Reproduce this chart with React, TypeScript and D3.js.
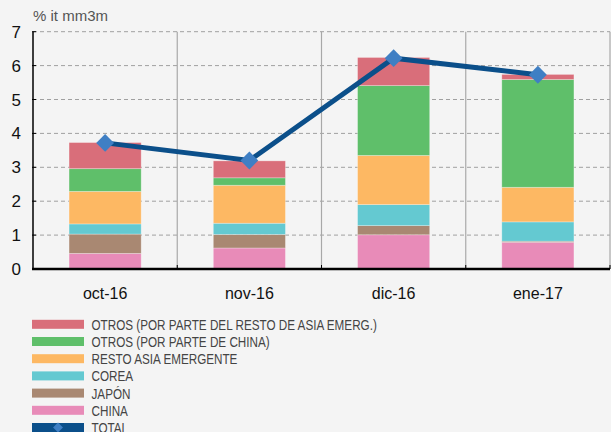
import React from "react";
import * as d3 from "d3";

const categories = ["oct-16", "nov-16", "dic-16", "ene-17"];
const seriesNames = [
  "CHINA",
  "JAPÓN",
  "COREA",
  "RESTO ASIA EMERGENTE",
  "OTROS (POR PARTE DE CHINA)",
  "OTROS (POR PARTE DEL RESTO DE ASIA EMERG.)",
];
const china = [0.46, 0.62, 1.01, 0.79];
const japon = [0.57, 0.4, 0.27, 0.03];
const corea = [0.3, 0.33, 0.62, 0.57];
const resto = [0.96, 1.12, 1.45, 1.02];
const otrosChina = [0.67, 0.22, 2.06, 3.18];
const otrosResto = [0.77, 0.5, 0.83, 0.15];
const total = [3.72, 3.2, 6.22, 5.73];
const yTicks = [0, 1, 2, 3, 4, 5, 6, 7];
const colors = ["#E88BB8", "#A98872", "#64C9D1", "#FDB863", "#5FBF6A", "#D96E7A"];
const legendOrder = [5, 4, 3, 2, 1, 0];

const W = 611;
const H = 432;
const left = 33;
const right = 610;
const top = 31.7;
const bottom = 269;

export default function App() {
  const series = [china, japon, corea, resto, otrosChina, otrosResto];
  const x = d3.scaleBand<string>().domain(categories).range([left, right]).padding(0);
  const y = d3.scaleLinear().domain([0, 7]).range([bottom, top]);
  const bw = x.bandwidth() * 0.5;
  const rows = categories.map((c, i) => {
    const o: any = { cat: c };
    series.forEach((s, j) => (o["s" + j] = s[i]));
    return o;
  });
  const stack = d3.stack<any>().keys(series.map((_, j) => "s" + j))(rows);
  const line = d3
    .line<number>()
    .x((_, i) => (x(categories[i]) as number) + x.bandwidth() / 2)
    .y((d) => y(d));
  const font = "Liberation Sans, Arial, Helvetica, sans-serif";
  const sx = 0.78;
  return (
    <svg
      width={W}
      height={H}
      style={{ position: "absolute", left: 0, top: 0, background: "#F4F4F4" }}
    >
      <rect x={0} y={0} width={W} height={H} fill="#F4F4F4" />
      {yTicks.slice(1).map((t) => (
        <line
          key={"g" + t}
          x1={left}
          x2={right}
          y1={y(t)}
          y2={y(t)}
          stroke="#A0A0A0"
          strokeWidth={1}
          strokeDasharray="4,3"
        />
      ))}
      {categories.map((c) => (
        <line
          key={"v" + c}
          x1={(x(c) as number) + x.bandwidth()}
          x2={(x(c) as number) + x.bandwidth()}
          y1={top}
          y2={bottom}
          stroke="#A8A8A8"
          strokeWidth={1.2}
        />
      ))}
      {stack.map((layer, j) => (
        <g key={"l" + j}>
          {layer.map((d, i) => (
            <rect
              key={i}
              x={(x(categories[i]) as number) + x.bandwidth() / 2 - bw / 2}
              y={y(d[1])}
              width={bw}
              height={Math.max(0, y(d[0]) - y(d[1]))}
              fill={colors[j]}
              stroke="#FFFFFF"
              strokeOpacity={0.35}
              strokeWidth={0.8}
            />
          ))}
        </g>
      ))}
      <line x1={left} x2={left} y1={top} y2={bottom} stroke="#000" strokeWidth={1.5} />
      {yTicks.map((t) => (
        <g key={"t" + t}>
          <line x1={left - 1} x2={left + 3} y1={y(t)} y2={y(t)} stroke="#000" strokeWidth={1} />
          <text
            x={21}
            y={y(t) + 6}
            textAnchor="end"
            fontFamily={font}
            fontSize={17}
            fill="#111"
          >
            {t}
          </text>
        </g>
      ))}
      {categories.map((c) => (
        <line
          key={"xt" + c}
          x1={(x(c) as number) + x.bandwidth()}
          x2={(x(c) as number) + x.bandwidth()}
          y1={bottom - 4}
          y2={bottom}
          stroke="#000"
          strokeWidth={1}
        />
      ))}
      <line x1={left - 1} x2={right} y1={bottom} y2={bottom} stroke="#000" strokeWidth={2.5} />
      {categories.map((c) => (
        <text
          key={"xl" + c}
          x={(x(c) as number) + x.bandwidth() / 2}
          y={299}
          textAnchor="middle"
          fontFamily={font}
          fontSize={16}
          fill="#111"
        >
          {c}
        </text>
      ))}
      <text x={33} y={21} fontFamily={font} fontSize={15} fill="#555">
        % it mm3m
      </text>
      <path d={line(total) || ""} fill="none" stroke="#0B4F8A" strokeWidth={5} />
      {total.map((v, i) => {
        const cx = (x(categories[i]) as number) + x.bandwidth() / 2;
        const cy = y(v);
        return (
          <rect
            key={"m" + i}
            x={cx - 6.3}
            y={cy - 6.3}
            width={12.6}
            height={12.6}
            fill="#3F7FC4"
            transform={`rotate(45 ${cx} ${cy})`}
          />
        );
      })}
      {legendOrder.map((j, k) => {
        const cy = 324.3 + k * 17.2;
        return (
          <g key={"lg" + j}>
            <rect x={32} y={cy - 4.5} width={52} height={9} fill={colors[j]} />
            <text
              transform={`translate(91.5 ${cy + 5.5}) scale(${sx} 1)`}
              fontFamily={font}
              fontSize={15}
              fill="#444"
            >
              {seriesNames[j]}
            </text>
          </g>
        );
      })}
      {(() => {
        const cy = 324.3 + 6 * 17.2;
        return (
          <g>
            <rect x={32} y={cy - 4.5} width={52} height={9} fill="#0B4F8A" />
            <rect
              x={58 - 3.5}
              y={cy - 3.5}
              width={7}
              height={7}
              fill="#3F7FC4"
              transform={`rotate(45 58 ${cy})`}
            />
            <text
              transform={`translate(91.5 ${cy + 5.5}) scale(${sx} 1)`}
              fontFamily={font}
              fontSize={15}
              fill="#444"
            >
              TOTAL
            </text>
          </g>
        );
      })()}
    </svg>
  );
}
